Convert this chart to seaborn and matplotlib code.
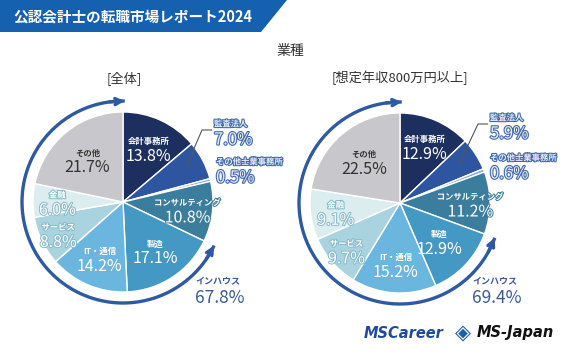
import matplotlib
matplotlib.use("Agg")
import matplotlib.pyplot as plt
import matplotlib.patheffects as pe
from matplotlib.patches import Polygon
import seaborn as sns
import numpy as np

# data
categories = ["会計事務所", "監査法人", "その他士業事務所", "コンサルティング",
              "製造", "IT・通信", "サービス", "金融", "その他"]
share_all = [13.8, 7.0, 0.5, 10.8, 17.1, 14.2, 8.8, 6.0, 21.7]
share_800 = [12.9, 5.9, 0.6, 11.2, 12.9, 15.2, 9.7, 9.1, 22.5]
inhouse_all = 67.8
inhouse_800 = 69.4
inhouse_first = 4  # 製造 .. その他 are "インハウス"

sns.set_theme(style="white")
plt.rcParams['font.family'] = ['Noto Sans CJK JP', 'DejaVu Sans']

colors = sns.color_palette(["#1c2f5e", "#2d55a0", "#8ea6d6", "#3a7d9c", "#4499c4",
                            "#6bb6de", "#a9d3df", "#dcedf0", "#c8c8cc"])
name_colors = ["white", None, None, "white", "white", "white", "white", "white", "#333333"]
stroke_colors = {3: "#3a7d9c", 6: "#86b9c9", 7: "#86b9c9"}
OUT_BLUE = "#4169ad"
ARC_BLUE = "#2d5aa0"

W, H = 580, 359
fig = plt.figure(figsize=(W / 100, H / 100), dpi=100, facecolor="white")
ax = fig.add_axes([0, 0, 1, 1])


def Y(y):
    return H - y


def draw_pie(cx, cy, R, vals, inhouse, text_r, out_pos, ih_pos):
    ax.pie(vals, colors=colors, startangle=90, counterclock=False,
           radius=R, center=(cx, Y(cy)),
           wedgeprops=dict(edgecolor="white", linewidth=1.0))
    cum = np.concatenate([[0], np.cumsum(vals)])
    mids = 90 - 3.6 * (cum[:-1] + cum[1:]) / 2
    for i, name in enumerate(categories):
        if text_r[i] is None:
            continue
        a = np.deg2rad(mids[i])
        x = cx + R * text_r[i] * np.cos(a)
        y = Y(cy) + R * text_r[i] * np.sin(a)
        fx = []
        if i in stroke_colors:
            fx = [pe.withStroke(linewidth=1.4, foreground=stroke_colors[i])]
        ax.text(x, y + 6, name, ha="center", va="center", fontsize=6,
                color=name_colors[i], fontweight="bold", path_effects=fx)
        ax.text(x, y - 9, f"{vals[i]:.1f}%", ha="center", va="center",
                fontsize=11.5, color=name_colors[i], path_effects=fx)
    # outside labels (監査法人, その他士業事務所)
    outfx = [pe.withStroke(linewidth=1.6, foreground=OUT_BLUE)]
    for i, (lx, ly) in zip((1, 2), out_pos):
        ax.text(lx, Y(ly) + 8, categories[i], ha="left", va="center", fontsize=6,
                color="#e4ebf7", fontweight="bold", path_effects=outfx)
        ax.text(lx, Y(ly) - 8, f"{vals[i]:.1f}%", ha="left", va="center", fontsize=12,
                color="#e4ebf7", path_effects=outfx)
    # leader line for 監査法人
    a = np.deg2rad(mids[1])
    sx, sy = cx + R * 0.78 * np.cos(a), Y(cy) + R * 0.78 * np.sin(a)
    lx, ly = out_pos[0]
    ax.plot([sx, lx - 12, lx - 2], [sy, Y(ly) + 2, Y(ly) + 2],
            color="#555555", lw=0.8, solid_capstyle="butt")
    # in-house arc with arrow heads
    Ra = R + 11
    t0 = 90 - 3.6 * cum[inhouse_first]
    t1 = -270 - 1
    th = np.deg2rad(np.linspace(t0, t1, 200))
    ax.plot(cx + Ra * np.cos(th), Y(cy) + Ra * np.sin(th), color=ARC_BLUE, lw=2.4,
            solid_capstyle="butt")
    for ta, tb in ((th[-1], th[-8]), (th[0], th[7])):
        ax.annotate("", xy=(cx + Ra * np.cos(ta), Y(cy) + Ra * np.sin(ta)),
                    xytext=(cx + Ra * np.cos(tb), Y(cy) + Ra * np.sin(tb)),
                    arrowprops=dict(arrowstyle="->", color=ARC_BLUE, lw=2.4,
                                    mutation_scale=11, shrinkA=0, shrinkB=0))
    ix, iy = ih_pos
    ax.text(ix, Y(iy), "インハウス", ha="left", va="center", fontsize=6.5,
            color="#3a5a9a", fontweight="bold")
    ax.text(ix, Y(iy + 16), f"{inhouse:.1f}%", ha="left", va="center", fontsize=12.5,
            color="#3a5a9a")


draw_pie(123, 202, 90, share_all, inhouse_all,
         [0.67, None, None, 0.72, 0.64, 0.67, 0.8, 0.73, 0.62],
         [(214, 132), (216, 170)], (195, 282))
draw_pie(400, 203, 90, share_800, inhouse_800,
         [0.7, None, None, 0.78, 0.6, 0.67, 0.79, 0.72, 0.62],
         [(490, 126), (490, 166)], (472, 282))

# header banner
ax.add_patch(Polygon([(0, Y(0)), (287, Y(0)), (261, Y(32)), (0, Y(32))],
                     closed=True, facecolor="#1561b0", edgecolor="none"))
ax.text(13, Y(16), "公認会計士の転職市場レポート2024", ha="left", va="center",
        fontsize=10.5, color="white", fontweight="bold")
ax.text(290, Y(51), "業種", ha="center", va="center", fontsize=10, color="#333333")
ax.text(124, Y(78), "[全体]", ha="center", va="center", fontsize=9.5, color="#333333")
ax.text(400, Y(78), "[想定年収800万円以上]", ha="center", va="center", fontsize=9.5,
        color="#333333")

# logos
ax.text(364, Y(333), "MSCareer", ha="left", va="center", fontsize=10.5,
        fontweight="bold", style="italic", color="#1f4aa0", family="DejaVu Sans")
ax.text(463, Y(333), "◈", ha="center", va="center", fontsize=15,
        color="#1f5fb0", family="DejaVu Sans")
ax.text(477, Y(333), "MS-Japan", ha="left", va="center", fontsize=10.5,
        fontweight="bold", style="italic", color="#111111", family="DejaVu Sans")

ax.set_xlim(0, W)
ax.set_ylim(0, H)
ax.set_aspect("equal")
ax.axis("off")

fig.savefig("out.png", dpi=100, facecolor="white")
